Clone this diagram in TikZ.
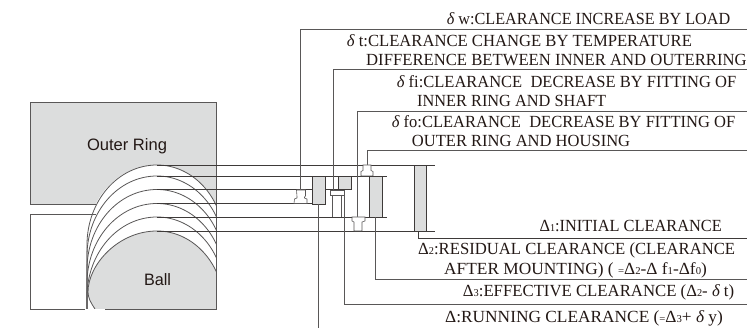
\documentclass[tikz,border=0pt]{standalone}
\usepackage{fontspec}
\usepackage{graphicx}
\setmainfont{Liberation Serif}
\setsansfont{Liberation Sans}
\definecolor{ringgray}{HTML}{DCDDDD}
\definecolor{edgec}{HTML}{595757}
\definecolor{darkc}{HTML}{3E3A39}
\definecolor{textc}{HTML}{231815}
\newsavebox{\fitbox}
\newcommand{\fitw}[2]{\sbox{\fitbox}{#2}\pgfmathsetmacro{\fitr}{#1/(\wd\fitbox/1pt)}\scalebox{\fitr}[1]{\usebox{\fitbox}}}
\newcommand{\dlt}{{\itshape δ}}
\newcommand{\sm}[1]{{\fontsize{10.5}{10.5}\selectfont #1}}
\tikzset{
  edge/.style={draw=edgec,line width=0.8pt},
  dark/.style={draw=darkc,line width=0.8pt},
  leader/.style={draw=edgec,line width=0.9pt},
  blockbox/.style={draw=darkc,line width=0.8pt,fill=ringgray,inner sep=0pt,minimum width=#1},
  blockbox/.default=13pt,
  symb/.style={draw=edgec,line width=0.6pt,fill=white},
  lab/.style={anchor=base west,inner sep=0pt,text=textc,font=\fontsize{17}{17}\selectfont},
  sanslab/.style={anchor=base,inner sep=0pt,text=textc,font=\sffamily\fontsize{16.5}{17}\selectfont},
}
\begin{document}
\begin{tikzpicture}[x=1pt,y=-1pt]
\useasboundingbox[fill=white] (0,0) rectangle (747,328);
% fills
\fill[ringgray] (30,102.5) -- (216,102.5) -- (216,206) -- (150,206) -- (150,204) -- (30,204) -- cycle;
\begin{scope}
\clip (0,100) rectangle (216,309);
\fill[white] (157,165) .. controls (118,165) and (87,199) .. (87,241) -- (87,309) -- (224,309) -- (224,241) .. controls (224,199) and (194,165) .. (157,165) -- cycle;
\fill[ringgray] (157,231) .. controls (118,231) and (88,265) .. (88,292) .. controls (88,298) and (91,303) .. (95,309) -- (224,309) -- (224,307) .. controls (224,265) and (194,231) .. (157,231) -- cycle;
% arcs
\foreach \T in {165,176,189.5,203.5,217} {
  \draw[edge] (157,\T) .. controls (118,\T) and (87,\T+36) .. (87,\T+80) -- (87,309);
  \draw[edge] (157,\T) .. controls (194,\T) and (224,\T+34) .. (224,\T+76);
}
\draw[edge] (157,231) .. controls (118,231) and (88,265) .. (88,292) .. controls (88,298) and (91,303) .. (95,309);
\draw[edge] (157,231) .. controls (194,231) and (224,265) .. (224,307);
\end{scope}
% outlines
\draw[edge] (96,204) -- (30,204) -- (30,102.5) -- (216,102.5) -- (216,309) -- (105,309);
\draw[edge] (96,214.5) -- (30,214.5) -- (30,309) -- (85,309);
% clearance levels
\coordinate (t1) at (157,165); \coordinate (e1) at (435,165);
\coordinate (t2) at (157,176); \coordinate (e2) at (387,176);
\coordinate (t3) at (157,189.5); \coordinate (e3) at (351,189.5);
\coordinate (t4) at (157,203.5); \coordinate (e4) at (325,203.5);
\coordinate (t5) at (157,217); \coordinate (e5) at (387,217);
\coordinate (t6) at (157,231); \coordinate (e6) at (435,231);
\foreach \i in {1,...,6} \draw[dark] (t\i) -- (e\i);
% right ends of the leaders
\coordinate (rw) at (747,29.5);
\coordinate (rt) at (747,69);
\coordinate (rfi) at (747,111);
\coordinate (rfo) at (747,150.7);
\coordinate (rd1) at (747,238);
\coordinate (rd2) at (747,279);
\coordinate (rd3) at (747,304);
\coordinate (bot) at (319,328);
% gauge symbols
\coordinate (s1) at (300.5,190);
\coordinate (s2) at (333.3,190);
\coordinate (s3) at (357.7,217);
\coordinate (s4) at (367.3,165);
\draw[leader] (s1) -- (s1 |- rw) -- (rw);
\draw[leader] (s2) -- (s2 |- rt) -- (rt);
\draw[leader] (s3) -- (s3 |- rfi) -- (rfi);
\draw[leader] (s4) -- (s4 |- rfo) -- (rfo);
\draw[symb] (296.5,190) -- (305.5,190) -- (305.5,196) -- (304.5,197) -- (304.5,198) -- (307,199) -- (307,203.5) -- (294,203.5) -- (294.5,199) -- (297,198) -- (297,196.5) -- cycle;
\draw[symb] (330,190) -- (344,190) -- (344,195) -- (330,195) -- cycle;
\draw[symb] (332.3,195) -- (332.3,217);
\draw[symb] (341.5,195) -- (341.5,217);
\draw[symb] (352,217) -- (365,217) -- (365,221) -- (362,222) -- (362,231) -- (354,231) -- (354,222) -- (352,221) -- cycle;
\draw[symb] (363,165) -- (371,165) -- (371,170.5) -- (373,171.5) -- (373,176) -- (361,176) -- (361,171.5) -- (363,170.5) -- cycle;
% blocks
\node[blockbox=13pt,minimum height=27.3pt] (b1) at (318.5,190.3) {};
\node[blockbox=13pt,minimum height=13.5pt] (b2) at (344.5,182.8) {};
\node[blockbox=13pt,minimum height=41pt] (b3) at (375.5,196.5) {};
\node[blockbox=12pt,minimum height=66pt] (b4) at (420,198) {};
\draw[leader] (b1.south) -- (b1.south |- bot);
\draw[leader] (b2.south) -- (b2.south |- rd3) -- (rd3);
\draw[leader] (b3.south) -- (b3.south |- rd2) -- (rd2);
\draw[dark] ([xshift=-1.5pt]b4.south) -- ([xshift=-1.5pt]b4.south |- rd1) -- (rd1);
% labels
\node[sanslab] (outer) at (127,151) {\fitw{80}{Outer Ring}};
\node[sanslab] (ball) at (157.5,286) {\fitw{27}{Ball}};
\node[lab] (l1) at (446.7,25) {\fitw{283.3}{\dlt\ w:CLEARANCE INCREASE BY LOAD}};
\node[lab] (l2) at (346.7,46.7) {\fitw{345}{\dlt\ t:CLEARANCE CHANGE BY TEMPERATURE}};
\node[lab] (l3) at (366,66) {\fitw{380.5}{DIFFERENCE BETWEEN INNER AND OUTERRING}};
\node[lab] (l4) at (396.7,88) {\fitw{339.3}{\dlt\ fi:CLEARANCE\ \ DECREASE BY FITTING OF}};
\node[lab] (l5) at (417,107) {\fitw{189}{INNER RING AND SHAFT}};
\node[lab] (l6) at (391.7,128) {\fitw{343.3}{\dlt\ fo:CLEARANCE\ \ DECREASE BY FITTING OF}};
\node[lab] (l7) at (411.7,147) {\fitw{218.3}{OUTER RING AND HOUSING}};
\node[lab] (l8) at (539.3,232) {\fitw{182.4}{Δ\sm{1}:INITIAL CLEARANCE}};
\node[lab] (l9) at (418,255) {\fitw{317}{Δ\sm{2}:RESIDUAL CLEARANCE (CLEARANCE}};
\node[lab] (l10) at (444,275) {\fitw{262.7}{AFTER MOUNTING) ( \sm{=}Δ\sm{2}-Δ f\sm{1}-Δf\sm{0})}};
\node[lab] (l11) at (462.7,297) {\fitw{271.3}{Δ\sm{3}:EFFECTIVE CLEARANCE (Δ\sm{2}- \dlt\ t)}};
\node[lab] (l12) at (445,322.7) {\fitw{277.7}{Δ:RUNNING CLEARANCE (\sm{=}Δ\sm{3}+ \dlt\ y)}};
\end{tikzpicture}
\end{document}
